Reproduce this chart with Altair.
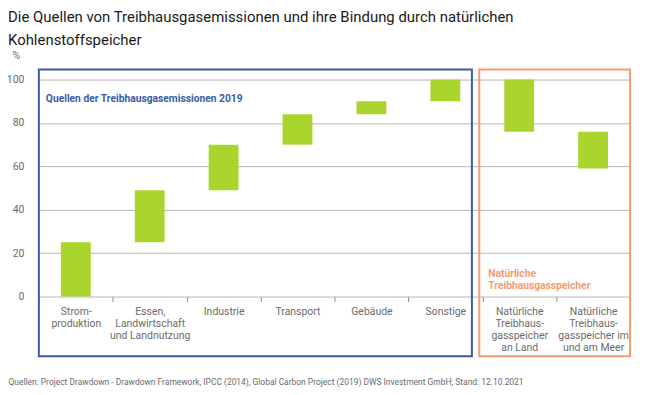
import altair as alt
import pandas as pd

# ---- data ----
categories = [
    "Strom-|produktion",
    "Essen,|Landwirtschaft|und Landnutzung",
    "Industrie",
    "Transport",
    "Gebäude",
    "Sonstige",
    "Natürliche|Treibhaus-|gasspeicher|an Land",
    "Natürliche|Treibhaus-|gasspeicher im|und am Meer",
]
bar_start = [0, 25, 49, 70, 84, 90, 76, 59]
bar_end = [25, 49, 70, 84, 90, 100, 100, 76]
y_ticks = [0, 20, 40, 60, 80, 100]

title_lines = [
    "Die Quellen von Treibhausgasemissionen und ihre Bindung durch natürlichen",
    "Kohlenstoffspeicher",
]
source_note = ("Quellen: Project Drawdown - Drawdown Framework, IPCC (2014), Global Carbon "
               "Project (2019) DWS Investment GmbH; Stand: 12.10.2021")
group1_label = "Quellen der Treibhausgasemissionen 2019"
group2_label = ["Natürliche", "Treibhausgasspeicher"]

GREEN = "#aad52c"
BLUE = "#3a5ca6"
ORANGE = "#f59c6b"
GRAY_TXT = "#6b6b6b"
FONT = "Roboto"

df = pd.DataFrame({"cat": categories, "start": bar_start, "end": bar_end})

W, H = 594, 218

x_scale = alt.Scale(domain=categories, paddingInner=0, paddingOuter=0)
y_scale = alt.Scale(domain=[0, 100], nice=False)

bars = alt.Chart(df).mark_bar(color=GREEN, width=30).encode(
    x=alt.X(
        "cat:N",
        scale=x_scale,
        sort=categories,
        axis=alt.Axis(
            title=source_note,
            titleFont=FONT,
            titleFontSize=8.5,
            titleFontWeight="normal",
            titleColor=GRAY_TXT,
            titleAlign="left",
            titleBaseline="middle",
            titleX=-31,
            titleY=85,
            labelExpr="split(datum.label, '|')",
            labelAngle=0,
            labelAlign="center",
            labelBaseline="top",
            labelLineHeight=12,
            labelFont=FONT,
            labelFontSize=10.5,
            labelColor=GRAY_TXT,
            labelPadding=5,
            tickBand="extent",
            tickSize=5,
            tickColor="#8f8f8f",
            domain=False,
            grid=False,
        ),
    ),
    y=alt.Y(
        "start:Q",
        scale=y_scale,
        axis=alt.Axis(
            values=y_ticks,
            title="%",
            titleAngle=0,
            titleAlign="left",
            titleBaseline="middle",
            titleX=-27,
            titleY=-24,
            titleFont=FONT,
            titleFontSize=10.5,
            titleFontWeight="normal",
            titleColor=GRAY_TXT,
            labelFont=FONT,
            labelFontSize=10.5,
            labelColor=GRAY_TXT,
            labelPadding=15,
            ticks=False,
            domain=False,
            grid=True,
            gridColor="#b5b5b5",
            gridWidth=1,
        ),
    ),
    y2="end:Q",
)

one = alt.Data(values=[{}])

box_blue = alt.Chart(one).mark_rect(
    fill="white", fillOpacity=0, stroke=BLUE, strokeWidth=2
).encode(
    x=alt.X(datum=categories[0], bandPosition=0, scale=x_scale),
    x2=alt.X2(datum=categories[5], bandPosition=0.86),
    y=alt.value(-10),
    y2=alt.value(H + 60),
)

box_orange = alt.Chart(one).mark_rect(
    fill="white", fillOpacity=0, stroke=ORANGE, strokeWidth=2
).encode(
    x=alt.X(datum=categories[5], bandPosition=0.96, scale=x_scale),
    x2=alt.X2(datum=categories[7], bandPosition=1),
    y=alt.value(-10),
    y2=alt.value(H + 60),
)

label_blue = alt.Chart(one).mark_text(
    align="left", baseline="middle", dx=7, font=FONT, fontSize=10.3,
    fontWeight="bold", color=BLUE
).encode(
    x=alt.X(datum=categories[0], bandPosition=0, scale=x_scale),
    y=alt.Y(datum=91, scale=y_scale),
    text=alt.value(group1_label),
)

label_orange = alt.Chart(one).mark_text(
    align="left", baseline="middle", dx=6, font=FONT, fontSize=10.3,
    fontWeight="bold", color=ORANGE, lineHeight=12
).encode(
    x=alt.X(datum=categories[6], bandPosition=0, scale=x_scale),
    y=alt.Y(datum=10.2, scale=y_scale),
    text=alt.value(group2_label),
)

chart = alt.layer(bars, box_blue, box_orange, label_blue, label_orange).properties(
    width=W,
    height=H,
    autosize=alt.AutoSizeParams(type="none"),
    padding={"left": 31, "top": 71, "right": 12, "bottom": 90},
    title=alt.Title(
        title_lines,
        anchor="start",
        frame="group",
        dx=-31,
        offset=3,
        font=FONT,
        fontSize=15,
        fontWeight="normal",
        color="#1a1a1a",
        lineHeight=23,
    ),
).configure_view(stroke=None)

chart.save("out.html", embed_options={"renderer": "svg", "actions": False})
